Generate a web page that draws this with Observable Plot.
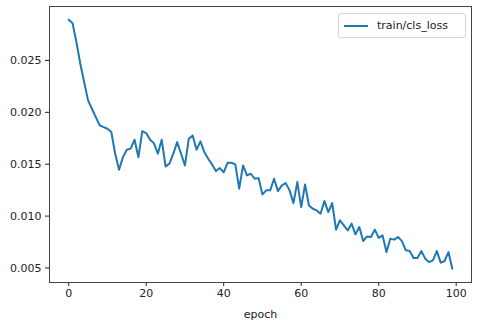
<!DOCTYPE html>
<html>
<head>
<meta charset="utf-8">
<script src="https://cdn.jsdelivr.net/npm/d3@7"></script>
<script src="https://cdn.jsdelivr.net/npm/@observablehq/plot@0.6"></script>
<style>
  html, body { margin: 0; padding: 0; background: #fff; }
  #wrap { position: relative; width: 480px; height: 324px; font-family: "DejaVu Sans", sans-serif; }
  #legend { position: absolute; left: 338px; top: 13px; width: 128px; height: 25px; box-sizing: border-box;
    border: 1px solid #d6d6d6; border-radius: 3px; background: rgba(255,255,255,0.8);
    display: flex; align-items: center; font-size: 11px; color: #222; }
  #legend .swatch { width: 24px; height: 0; border-top: 2px solid #1f77b4; margin-left: 5px; margin-right: 9px; }
</style>
</head>
<body>
<div id="wrap"><div id="legend"><span class="swatch"></span><span>train/cls_loss</span></div></div>
<script>
const seriesName = "train/cls_loss";
const xTicks = [0, 20, 40, 60, 80, 100];
const yTicks = [0.005, 0.010, 0.015, 0.020, 0.025];
const loss = [
  0.02892, 0.02859, 0.02676, 0.02468, 0.0229, 0.02115, 0.02035, 0.01954, 0.01874, 0.01858,
  0.01842, 0.0181, 0.01601, 0.01447, 0.01568, 0.0164, 0.0165, 0.01736, 0.01568, 0.01819,
  0.018, 0.01736, 0.01703, 0.01601, 0.01736, 0.01479, 0.01505, 0.01601, 0.01713, 0.01601,
  0.01488, 0.01746, 0.01777, 0.0164, 0.0172, 0.01617, 0.01553, 0.01498, 0.01434, 0.01463,
  0.01421, 0.01514, 0.01514, 0.01498, 0.01264, 0.01488, 0.01392, 0.01408, 0.0136, 0.01366,
  0.01209, 0.01248, 0.01248, 0.0136, 0.01241, 0.01296, 0.01318, 0.01248, 0.01125, 0.01328,
  0.01087, 0.01305, 0.01103, 0.01071, 0.01055, 0.01023, 0.01145, 0.01039, 0.01125, 0.00869,
  0.00959, 0.0091, 0.00862, 0.00927, 0.00824, 0.00894, 0.00759, 0.00804, 0.00798, 0.00869,
  0.0079, 0.00814, 0.00653, 0.00782, 0.00773, 0.00798, 0.00759, 0.0067, 0.00663, 0.00596,
  0.00596, 0.00663, 0.0059, 0.00557, 0.00573, 0.00663, 0.00551, 0.00567, 0.00653, 0.00493
];
const epochs = loss.map((_, i) => i);
const data = epochs.map((e, i) => ({epoch: e, loss: loss[i]}));

const chart = Plot.plot({
  width: 480,
  height: 324,
  marginLeft: 49,
  marginRight: 9,
  marginTop: 6,
  marginBottom: 42,
  style: {fontFamily: "DejaVu Sans, sans-serif", fontSize: "11px", color: "#222", background: "#fff"},
  x: {domain: [-4.95, 103.95], ticks: xTicks, tickSize: 4, tickPadding: 3, label: "epoch", labelAnchor: "center", labelArrow: "none", labelOffset: 35, tickFormat: d3.format("d")},
  y: {domain: [0.0036, 0.0302], ticks: yTicks, tickSize: 4, tickPadding: 4, label: null, tickFormat: d3.format(".3f")},
  marks: [
    Plot.line(data, {x: "epoch", y: "loss", stroke: "#1f77b4", strokeWidth: 2}),
    Plot.frame({stroke: "#444", strokeWidth: 1})
  ]
});
document.getElementById("wrap").prepend(chart);
</script>
</body>
</html>
